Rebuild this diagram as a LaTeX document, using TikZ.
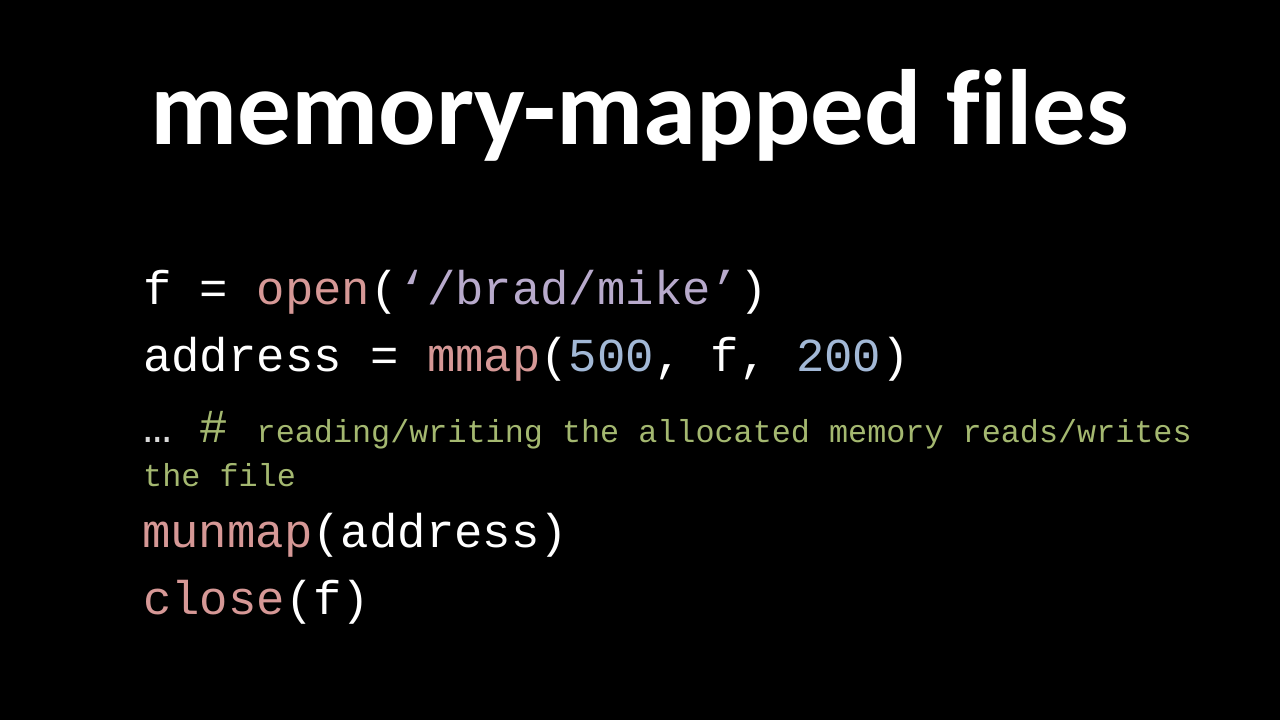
\documentclass[tikz,border=0pt]{standalone}
\usepackage{fontspec}
\setmainfont{Carlito}[Ligatures=NoCommon]
\newfontfamily\codefont{Liberation Mono}
\definecolor{kw}{RGB}{214,152,150}
\definecolor{str}{RGB}{184,170,204}
\definecolor{num}{RGB}{162,184,214}
\definecolor{cmt}{RGB}{164,184,112}
\definecolor{txt}{RGB}{255,255,255}
\begin{document}
\begin{tikzpicture}[x=1pt,y=1pt,
  title/.style={inner sep=0pt,anchor=base,text=white,font=\fontsize{107}{112}\selectfont\bfseries},
  codeline/.style={inner sep=0pt,anchor=base west,text=txt,font=\codefont\fontsize{47.3}{50}\selectfont},
  cmtline/.style={inner sep=0pt,anchor=base west,text=cmt,font=\codefont\fontsize{31.8}{34}\selectfont}]
\fill[black] (0,0) rectangle (1280,720);
\useasboundingbox (0,0) rectangle (1280,720);
\node[title] (t) at (640,575) {memory-mapped files};
\node[codeline] (l1) at (143,415) {f = \textcolor{kw}{open}(\textcolor{str}{‘/brad/mike’})};
\node[codeline] (l2) at (143,348) {address = \textcolor{kw}{mmap}(\textcolor{num}{500}, f, \textcolor{num}{200})};
\node[codeline] (l3) at (143,277) {\textcolor{white!85!black}{…} \textcolor{cmt}{\#} {\fontsize{31.8}{34}\selectfont\textcolor{cmt}{reading/writing the allocated memory reads/writes}}};
\node[cmtline] (l4) at (143,233) {the file};
\node[codeline] (l5) at (142,172) {\textcolor{kw}{munmap}(address)};
\node[codeline] (l6) at (143,105) {\textcolor{kw}{close}(f)};
\end{tikzpicture}
\end{document}
